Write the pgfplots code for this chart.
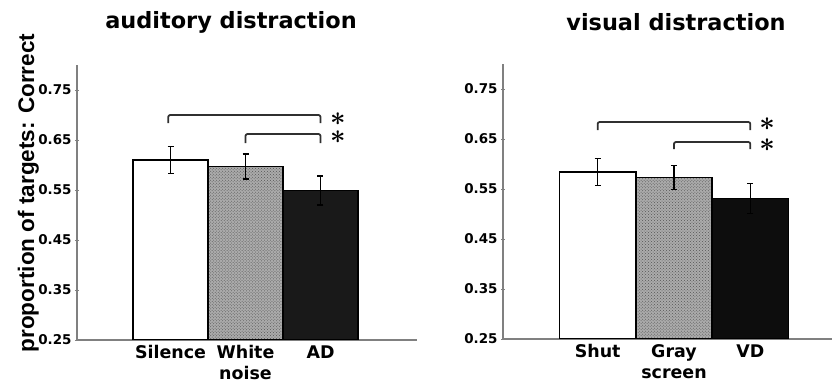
\documentclass[border=0pt]{standalone}
\usepackage{fontspec}
\setmainfont{DejaVu Sans}
\newfontfamily\lib{Liberation Sans}
\usepackage{pgfplots}
\pgfplotsset{compat=1.18}
\usetikzlibrary{patterns}
\definecolor{axgray}{HTML}{808080}
\definecolor{brk}{HTML}{303030}
\definecolor{noisebg}{HTML}{ABABAB}
\definecolor{noisedot}{HTML}{555555}
\newcommand{\sig}{\scalebox{2.7}{\boldmath$\ast$}}
\tikzset{sigpair/.style={inner sep=0pt, align=center, font=\fontsize{10}{#1}\selectfont}}
\pgfplotsset{
  mypanel/.style={
    scale only axis, height=275bp, anchor=south west,
    axis lines=left, axis line style={axgray, line width=1.3pt, -},
    ymin=0.25, ymax=0.80,
    ytick={0.25,0.35,0.45,0.55,0.65,0.75},
    yticklabels={0.25,0.35,0.45,0.55,0.65,0.75},
    ytick style={axgray, line width=1pt}, major tick length=4bp,
    xtick={0,1,2}, xtick style={draw=none},
    xticklabel style={font=\bfseries\fontsize{17.5}{21}\selectfont, align=center},
    yticklabel style={font=\bfseries\fontsize{13.5}{16}\selectfont},
    bar width=1,
  },
  barbase/.style={ybar, bar shift=0pt, draw=black, line width=1.5pt,
    error bars/y dir=both, error bars/y explicit,
    error bars/error bar style={line width=1.2pt, black},
    error bars/error mark options={rotate=90, mark size=3bp, line width=1.2pt, black}},
  bracket/.style={sharp plot, brk, line width=1.8pt, line join=round, rounded corners=2pt, mark=none},
  noisefill/.style={fill=noisebg, postaction={pattern=crosshatch dots, pattern color=noisedot}},
}
\begin{document}
\begin{tikzpicture}
\useasboundingbox (0,0) rectangle (832bp,388bp);
% left panel
\begin{axis}[mypanel, at={(77bp,48bp)}, width=340bp, xmin=-1.247, xmax=3.287,
  xticklabels={Silence,{White\\noise},AD}]
\addplot[barbase, fill=white] coordinates {(0,0.610) +- (0,0.027)};
\addplot[barbase, noisefill] coordinates {(1,0.597) +- (0,0.025)};
\addplot[barbase, fill=black!90] coordinates {(2,0.549) +- (0,0.029)};
\addplot[bracket] coordinates {(-0.03,0.684) (-0.03,0.700) (2,0.700) (2,0.684)};
\addplot[bracket] coordinates {(1,0.644) (1,0.662) (2,0.662) (2,0.644)};
\node[sigpair=18bp] at (axis cs:2.23,0.673) {\sig\\\sig};
\end{axis}
% right panel
\begin{axis}[mypanel, at={(503bp,49bp)}, width=329bp, xmin=-1.24, xmax=3.07,
  xticklabels={Shut,{Gray\\screen},VD}]
\addplot[barbase, fill=white] coordinates {(0,0.584) +- (0,0.027)};
\addplot[barbase, noisefill] coordinates {(1,0.573) +- (0,0.024)};
\addplot[barbase, fill=black!95] coordinates {(2,0.531) +- (0,0.030)};
\addplot[bracket] coordinates {(0,0.668) (0,0.684) (2,0.684) (2,0.668)};
\addplot[bracket] coordinates {(1,0.630) (1,0.644) (2,0.644) (2,0.630)};
\node[sigpair=21bp] at (axis cs:2.22,0.658) {\sig\\\sig};
\end{axis}
\node[font=\bfseries\fontsize{22.5}{27}\selectfont, anchor=base] at (231bp,359bp) {auditory distraction};
\node[font=\bfseries\fontsize{22.5}{27}\selectfont, anchor=base] at (676bp,357bp) {visual distraction};
\node[font=\lib\bfseries\fontsize{22.6}{27}\selectfont, rotate=90, anchor=base] at (34bp,195bp) {proportion of targets: Correct};
\end{tikzpicture}
\end{document}
